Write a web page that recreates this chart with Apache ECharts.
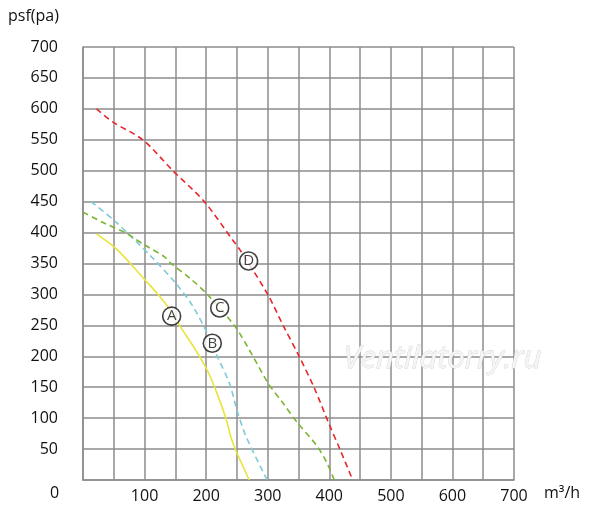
<!DOCTYPE html>
<html>
<head>
<meta charset="utf-8">
<script src="https://cdn.jsdelivr.net/npm/echarts@6/dist/echarts.min.js"></script>
<style>
  html, body { margin: 0; padding: 0; background: #fff; }
  #main { width: 600px; height: 523px; }
</style>
</head>
<body>
<div id="main"></div>
<script>
// fan curves, [airflow m3/h, pressure pa]
var curveA = [[22, 398], [56, 372], [101, 323], [121, 301], [140, 277], [158, 248], [183, 210], [202, 177], [220, 134], [233, 97], [240, 70], [249, 46], [270, 0]];
var curveB = [[13, 450], [50, 420], [84, 388], [113, 359], [149, 320], [177, 283], [202, 237], [218, 200], [238, 156], [250, 113], [265, 70], [299, 0]];
var curveC = [[0, 433], [35, 415], [70, 399], [100, 380], [132, 361], [143, 350], [175, 325], [202, 300], [247, 248], [276, 200], [301, 156], [325, 124], [348, 93], [380, 55], [396, 28], [408, 0]];
var curveD = [[22, 600], [48, 579], [97, 550], [146, 500], [197, 450], [243, 388], [255, 372], [300, 300], [325, 250], [351, 200], [376, 148], [399, 92], [418, 48], [438, 0]];

// circled curve labels
var tagNames = ['A', 'B', 'C', 'D'];
var tagPos = [[144, 265], [210, 221], [222, 278], [269, 354]];

var chart = echarts.init(document.getElementById('main'));
var gridColor = '#8c8c8c';
var font = '"Open Sans", "Noto Sans", sans-serif';

function curve(data, color, dashed) {
    return {
        type: 'line',
        data: data,
        smooth: 0.3,
        showSymbol: false,
        silent: true,
        lineStyle: { color: color, width: 1.6, type: dashed ? [6, 4] : 'solid' },
        z: 3
    };
}

chart.setOption({
    animation: false,
    backgroundColor: '#fff',
    grid: { left: 83, right: 86, top: 47, bottom: 43 },
    xAxis: {
        type: 'value', min: 0, max: 700, interval: 50,
        axisLine: { lineStyle: { color: gridColor, width: 1.5 } },
        axisTick: { show: false },
        splitLine: { lineStyle: { color: gridColor, width: 1.5 } },
        axisLabel: {
            color: '#111', fontSize: 16, fontFamily: font, margin: 8,
            formatter: function (v) { return (v > 0 && v % 100 === 0) ? v : ''; }
        }
    },
    yAxis: {
        type: 'value', min: 0, max: 700, interval: 50,
        axisLine: { show: true, lineStyle: { color: gridColor, width: 1.5 } },
        axisTick: { show: false },
        splitLine: { lineStyle: { color: gridColor, width: 1.5 } },
        axisLabel: {
            color: '#111', fontSize: 16, fontFamily: font, margin: 25,
            formatter: function (v) { return v === 0 ? '' : v; }
        }
    },
    graphic: [
        { type: 'text', left: 8, top: 8, style: { text: 'psf(pa)', fill: '#111', font: '16px ' + font } },
        { type: 'text', left: 544, top: 485, style: { text: 'm³/h', fill: '#111', font: '16px ' + font } },
        { type: 'text', left: 50, top: 485, style: { text: '0', fill: '#111', font: '16px ' + font } },
        { type: 'text', left: 343, top: 343, z: 1,
          style: { text: 'Ventilatorry.ru', fill: '#f5f5f5', stroke: '#d2d2d2', lineWidth: 0.8,
                   font: 'italic 31px "Open Sans", sans-serif' } }
    ],
    series: [
        curve(curveA, '#e8e43a', false),
        curve(curveB, '#7ccbd8', true),
        curve(curveC, '#7ab630', true),
        curve(curveD, '#e8262a', true),
        {
            type: 'scatter',
            data: tagPos.map(function (p, i) { return { value: p, name: tagNames[i] }; }),
            symbol: 'circle',
            symbolSize: 18,
            silent: true,
            z: 5,
            itemStyle: { color: '#fff', borderColor: '#111', borderWidth: 1.6 },
            label: {
                show: true, position: 'inside', color: '#111', fontSize: 15, fontFamily: font,
                formatter: function (p) { return p.name; }
            }
        }
    ]
});
</script>
</body>
</html>
